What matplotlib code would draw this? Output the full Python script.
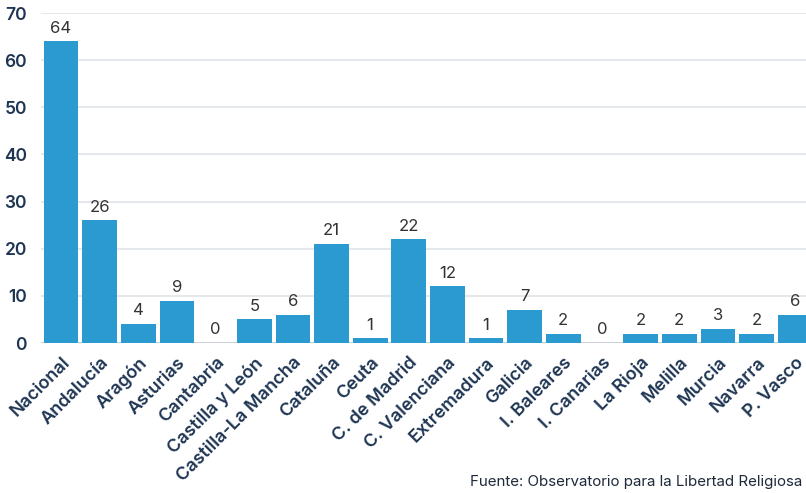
import matplotlib
matplotlib.use("Agg")
import matplotlib.pyplot as plt

categories = ["Nacional", "Andalucía", "Aragón", "Asturias", "Cantabria",
              "Castilla y León", "Castilla-La Mancha", "Cataluña", "Ceuta",
              "C. de Madrid", "C. Valenciana", "Extremadura", "Galicia",
              "I. Baleares", "I. Canarias", "La Rioja", "Melilla", "Murcia",
              "Navarra", "P. Vasco"]
values = [64, 26, 4, 9, 0, 5, 6, 21, 1, 22, 12, 1, 7, 2, 0, 2, 2, 3, 2, 6]
yticks = [0, 10, 20, 30, 40, 50, 60, 70]
source = "Fuente: Observatorio para la Libertad Religiosa"

plt.rcParams['font.family'] = ['Inter', 'DejaVu Sans']

fig = plt.figure(figsize=(8.06, 4.93), dpi=100)
ax = fig.add_axes([41/806, 1-343/493, 1-41/806, (343-13)/493])

x = list(range(len(categories)))
bars = ax.bar(x, values, width=0.9, color="#2a9ad0", zorder=3)
for xi, v in zip(x, values):
    ax.text(xi, v + 1.2, str(v), ha="center", va="bottom", fontsize=12,
            color="#333333", zorder=4)

ax.set_ylim(0, 70)
ax.set_xlim(-0.52, 19.28)
ax.set_yticks(yticks)
ax.set_yticklabels([str(t) for t in yticks], fontsize=12.5, color="#1e3553",
                   fontweight="semibold")
ax.set_xticks(x)
ax.set_xticklabels(categories, rotation=45, ha="right", va="top",
                   rotation_mode="anchor", fontsize=13, color="#1e3553",
                   fontweight="semibold")
ax.tick_params(axis="both", length=0)
ax.tick_params(axis="y", pad=10)
ax.tick_params(axis="x", pad=8)
ax.grid(axis="y", color="#dfe3e8", linewidth=1.2, zorder=0)
for s in ax.spines.values():
    s.set_visible(False)
ax.axhline(0, color="#c9ced6", linewidth=1.2, zorder=2)

fig.text(802/806, 1-482/493, source, ha="right", va="center", fontsize=10.9,
         color="#1e2a3a")

fig.savefig("out.png", dpi=100)
